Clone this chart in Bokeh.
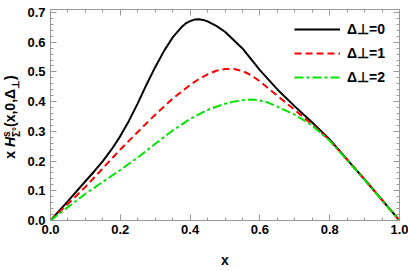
from bokeh.plotting import figure
from bokeh.models import (Range1d, LinearAxis, SingleIntervalTicker, Legend, LegendItem,
                          PrintfTickFormatter, CustomJSTickFormatter, Div)
from bokeh.layouts import row
from bokeh.embed import file_html
from bokeh.resources import INLINE

# ---- data ----
x0 = [0.0, 0.05, 0.10, 0.125, 0.15, 0.175, 0.20, 0.225, 0.25, 0.275, 0.30, 0.325, 0.35, 0.375, 0.3875, 0.40,
      0.4125, 0.425, 0.4375, 0.45, 0.475, 0.50, 0.55, 0.60, 0.65, 0.70, 0.75, 0.80, 0.85, 0.90, 0.95, 1.0]
y0 = [0.0, 0.065, 0.132, 0.165, 0.200, 0.239, 0.284, 0.336, 0.394, 0.457, 0.516, 0.570, 0.616, 0.650, 0.663, 0.671,
      0.676, 0.677, 0.675, 0.670, 0.655, 0.635, 0.579, 0.506, 0.441, 0.384, 0.330, 0.273, 0.205, 0.138, 0.069, 0.0]

x1 = [0.0, 0.05, 0.10, 0.15, 0.20, 0.25, 0.30, 0.35, 0.40, 0.425, 0.45, 0.475, 0.50, 0.525, 0.55,
      0.575, 0.60, 0.65, 0.70, 0.75, 0.80, 0.85, 0.90, 0.95, 1.0]
y1 = [0.0, 0.056, 0.113, 0.176, 0.239, 0.298, 0.356, 0.410, 0.456, 0.476, 0.492, 0.504, 0.510, 0.510, 0.503,
      0.489, 0.468, 0.420, 0.372, 0.323, 0.270, 0.205, 0.138, 0.069, 0.0]

x2 = [0.0, 0.05, 0.10, 0.15, 0.20, 0.25, 0.30, 0.35, 0.40, 0.45, 0.50, 0.525, 0.55, 0.575, 0.60,
      0.625, 0.65, 0.70, 0.75, 0.80, 0.85, 0.90, 0.95, 1.0]
y2 = [0.0, 0.045, 0.090, 0.130, 0.170, 0.212, 0.258, 0.303, 0.342, 0.372, 0.393, 0.400, 0.405, 0.407, 0.404,
      0.396, 0.383, 0.356, 0.320, 0.268, 0.203, 0.137, 0.068, 0.0]

labels = ["Δ⊥=0", "Δ⊥=1", "Δ⊥=2"]
colors = ["#000000", "#ff0000", "#00e600"]
dashes = ["solid", "7 4", "9 3 3 3"]

FONT = "Liberation Sans"
GRAY = "#999999"
XMAX, YMAX = 1.0, 0.71

W, H = 408, 270
LW = 24                 # width of the strip holding the y-axis title
ML, MR, MT = 50 - LW, 9, 9
MB = H - 224
p = figure(width=W - LW, height=H, output_backend="svg", toolbar_location=None,
           x_range=Range1d(0, XMAX), y_range=Range1d(0, YMAX),
           min_border_left=ML, min_border_right=MR, min_border_top=MT, min_border_bottom=MB,
           background_fill_color="white", border_fill_color="white")
p.grid.visible = False
p.outline_line_color = None

def style(ax, show_labels=True):
    ax.axis_line_color = GRAY
    ax.major_tick_line_color = GRAY
    ax.minor_tick_line_color = GRAY
    ax.major_tick_in = 6
    ax.major_tick_out = 0
    ax.minor_tick_in = 3
    ax.minor_tick_out = 0
    ax.major_label_text_font = FONT
    ax.major_label_text_font_style = "bold"
    ax.major_label_text_font_size = "13px"
    ax.major_label_text_color = "black"
    if show_labels:
        ax.formatter = PrintfTickFormatter(format="%.1f")
    else:
        ax.formatter = CustomJSTickFormatter(code="return ''")
        ax.major_label_standoff = 0

xt = lambda: SingleIntervalTicker(interval=0.2, num_minor_ticks=4)
yt = lambda: SingleIntervalTicker(interval=0.1, num_minor_ticks=5)

p.xaxis.ticker = xt()
p.yaxis.ticker = yt()
style(p.xaxis[0])
style(p.yaxis[0])
p.xaxis.major_label_standoff = 4
p.yaxis.major_label_standoff = 5
p.xaxis.axis_label = "x"
p.xaxis.axis_label_text_font = FONT
p.xaxis.axis_label_text_font_style = "bold"
p.xaxis.axis_label_text_font_size = "14px"
p.xaxis.axis_label_text_color = "black"
p.xaxis.axis_label_standoff = 15

top = LinearAxis(ticker=xt())
style(top, False)
p.add_layout(top, "above")
right = LinearAxis(ticker=yt())
style(right, False)
p.add_layout(right, "right")

renderers = []
for xs, ys, c, d in zip([x0, x1, x2], [y0, y1, y2], colors, dashes):
    r = p.line(xs, ys, line_color=c, line_width=2, line_dash=d)
    renderers.append(r)

legend = Legend(items=[LegendItem(label=l, renderers=[r]) for l, r in zip(labels, renderers)],
                location=(244, 133), border_line_color=None, background_fill_alpha=0,
                glyph_width=46, glyph_height=20, label_standoff=7, spacing=4, padding=5,
                label_text_font=FONT, label_text_font_style="bold", label_text_font_size="14px",
                label_text_color="black")
p.add_layout(legend, "center")

# ---- rotated y-axis title as real HTML text in a narrow strip ----
title_html = (
    f'<div style="position:relative;width:{LW}px;height:{H}px;">'
    '<div style="position:absolute;left:12px;top:117px;'
    'transform:translate(-50%,-50%) rotate(-90deg);white-space:nowrap;'
    f"font-family:'{FONT}';font-weight:bold;font-size:14px;line-height:1;color:black;\">"
    'x <i>H</i>'
    '<span style="display:inline-block;vertical-align:-5px;font-size:10px;line-height:1;text-align:left;">'
    '<span style="display:block;">s</span><span style="display:block;">Σ°</span></span>'
    '(x,0,Δ<span style="font-size:10px;vertical-align:-4px;">⊥</span>)'
    '</div></div>'
)
t = Div(text=title_html, width=LW, height=H, margin=0)

layout = row(t, p, spacing=0)
open("out.html", "w").write(file_html(layout, INLINE))
